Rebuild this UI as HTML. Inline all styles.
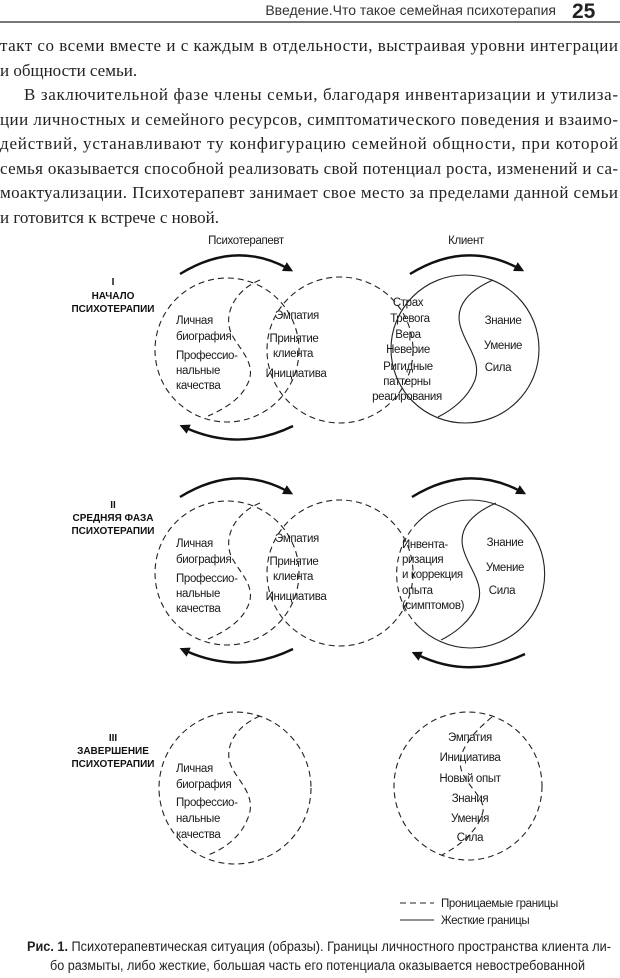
<!DOCTYPE html>
<html><head><meta charset="utf-8">
<style>
html,body{margin:0;padding:0;background:#fff;}
svg{display:block;}
.s{font-family:"Liberation Serif","Noto Serif CJK SC",serif;font-size:17px;fill:#222;}
.n{font-family:"Liberation Sans Narrow","Liberation Sans",sans-serif;font-size:11.5px;letter-spacing:-0.35px;fill:#1a1a1a;}
.b{font-family:"Liberation Sans",sans-serif;font-size:10px;font-weight:bold;fill:#111;}
.d{fill:none;stroke:#222;stroke-width:1.1;stroke-dasharray:6,4;}
.l{fill:none;stroke:#222;stroke-width:1.1;}
.a{fill:none;stroke:#111;stroke-width:2.4;}
</style></head><body>
<svg width="620" height="978" viewBox="0 0 620 978" xmlns="http://www.w3.org/2000/svg">
<defs>
<marker id="ah" markerWidth="10" markerHeight="10" refX="3" refY="5" orient="auto" markerUnits="userSpaceOnUse"><path d="M0,0 L10,5 L0,10 z" fill="#111"/></marker>
</defs>
<text x="556" y="15" text-anchor="end" font-family="Liberation Sans Narrow, Liberation Sans, sans-serif" font-size="14" fill="#333">Введение.Что такое семейная психотерапия</text>
<text x="572" y="18" font-family="Liberation Sans, sans-serif" font-size="21" font-weight="bold" fill="#222">25</text>
<rect x="0" y="21" width="620" height="2" fill="#777"/>
<text class="s" x="0" y="51" textLength="618" lengthAdjust="spacing">такт со всеми вместе и с каждым в отдельности, выстраивая уровни интеграции</text>
<text class="s" x="0" y="76">и общности семьи.</text>
<text class="s" x="24" y="100" textLength="594" lengthAdjust="spacing">В заключительной фазе члены семьи, благодаря инвентаризации и утилиза-</text>
<text class="s" x="0" y="125" textLength="618" lengthAdjust="spacing">ции личностных и семейного ресурсов, симптоматического поведения и взаимо-</text>
<text class="s" x="0" y="149" textLength="618" lengthAdjust="spacing">действий, устанавливают ту конфигурацию семейной общности, при которой</text>
<text class="s" x="0" y="174" textLength="618" lengthAdjust="spacing">семья оказывается способной реализовать свой потенциал роста, изменений и са-</text>
<text class="s" x="0" y="198" textLength="618" lengthAdjust="spacing">моактуализации. Психотерапевт занимает свое место за пределами данной семьи</text>
<text class="s" x="0" y="223">и готовится к встрече с новой.</text>

<text class="n" x="246" y="244" text-anchor="middle">Психотерапевт</text>
<text class="n" x="466" y="244" text-anchor="middle">Клиент</text>

<g class="b" text-anchor="middle"><text x="113" y="285">I</text><text x="113" y="299">НАЧАЛО</text><text x="113" y="312">ПСИХОТЕРАПИИ</text></g>
<path class="a" d="M180,274 Q235,240 287,268" marker-end="url(#ah)"/>
<path class="a" d="M293,426 Q240,452 186,428" marker-end="url(#ah)"/>
<path class="a" d="M410,274 Q465,240 518,268" marker-end="url(#ah)"/>
<circle class="d" cx="227" cy="350" r="72"/>
<circle class="d" cx="340" cy="350" r="73"/>
<circle class="l" cx="465" cy="349" r="74"/>
<path class="d" d="M260,280 C235,290 222,315 232,335 C240,350 258,365 247,385 C240,400 222,410 208,416"/>
<path class="l" d="M493,280 C470,290 455,305 460,325 C465,345 482,360 475,380 C468,398 452,410 438,417"/>
<g class="n">
<text x="176" y="324">Личная</text><text x="176" y="340">биография</text><text x="176" y="359">Профессио-</text><text x="176" y="374">нальные</text><text x="176" y="389">качества</text>
</g>
<g class="n" text-anchor="middle">
<text x="297" y="319">Эмпатия</text><text x="294" y="342">Принятие</text><text x="293" y="357">клиента</text><text x="296" y="377">Инициатива</text>
<text x="408" y="306">Страх</text><text x="410" y="322">Тревога</text><text x="408" y="338">Вера</text><text x="408" y="353">Неверие</text><text x="408" y="370">Ригидные</text><text x="407" y="385">паттерны</text><text x="407" y="400">реагирования</text>
<text x="503" y="324">Знание</text><text x="503" y="349">Умение</text><text x="498" y="371">Сила</text>
</g>

<g class="b" text-anchor="middle"><text x="113" y="508">II</text><text x="113" y="521">СРЕДНЯЯ ФАЗА</text><text x="113" y="534">ПСИХОТЕРАПИИ</text></g>
<path class="a" d="M180,497 Q235,463 287,491" marker-end="url(#ah)"/>
<path class="a" d="M293,649 Q240,675 186,651" marker-end="url(#ah)"/>
<path class="a" d="M412,497 Q467,463 520,491" marker-end="url(#ah)"/>
<path class="a" d="M525,654 Q470,680 418,655" marker-end="url(#ah)"/>
<circle class="d" cx="227" cy="573" r="72"/>
<circle class="d" cx="340" cy="573" r="73"/>
<path class="l" d="M418,522 A74,74 0 1 1 418,626"/>
<path class="d" d="M418,522 A74,74 0 0 0 418,626"/>
<path class="d" d="M260,503 C235,513 222,538 232,558 C240,573 258,588 247,608 C240,623 222,633 208,639"/>
<path class="l" d="M496,503 C473,513 458,528 463,548 C468,568 485,583 478,603 C471,621 455,633 441,640"/>
<g class="n">
<text x="176" y="547">Личная</text><text x="176" y="563">биография</text><text x="176" y="582">Профессио-</text><text x="176" y="597">нальные</text><text x="176" y="612">качества</text>
<text x="402" y="548">Инвента-</text><text x="402" y="563">ризация</text><text x="402" y="578">и коррекция</text><text x="402" y="594">опыта</text><text x="402" y="609">(симптомов)</text>
</g>
<g class="n" text-anchor="middle">
<text x="297" y="542">Эмпатия</text><text x="294" y="565">Принятие</text><text x="293" y="580">клиента</text><text x="296" y="600">Инициатива</text>
<text x="505" y="546">Знание</text><text x="505" y="571">Умение</text><text x="502" y="594">Сила</text>
</g>

<g class="b" text-anchor="middle"><text x="113" y="741">III</text><text x="113" y="754">ЗАВЕРШЕНИЕ</text><text x="113" y="767">ПСИХОТЕРАПИИ</text></g>
<circle class="d" cx="235" cy="788" r="76"/>
<path class="d" d="M260,716 C236,726 222,748 232,768 C240,783 258,798 247,820 C240,838 222,850 208,855"/>
<circle class="d" cx="468" cy="786" r="74"/>
<path class="d" d="M492,717 C470,735 455,755 462,772 C470,790 488,800 482,815 C475,835 455,848 442,855"/>
<g class="n">
<text x="176" y="772">Личная</text><text x="176" y="788">биография</text><text x="176" y="806">Профессио-</text><text x="176" y="822">нальные</text><text x="176" y="838">качества</text>
</g>
<g class="n" text-anchor="middle">
<text x="470" y="741">Эмпатия</text><text x="470" y="761">Инициатива</text><text x="470" y="782">Новый опыт</text><text x="470" y="802">Знания</text><text x="470" y="822">Умения</text><text x="470" y="841">Сила</text>
</g>

<path class="d" d="M400,903 H434"/>
<path class="l" d="M400,920 H434"/>
<text class="n" x="441" y="907">Проницаемые границы</text>
<text class="n" x="441" y="924">Жесткие границы</text>

<text font-family="Liberation Sans Narrow, Liberation Sans, sans-serif" font-size="13.5" fill="#222" x="27" y="951" textLength="584" lengthAdjust="spacingAndGlyphs"><tspan font-weight="bold">Рис. 1.</tspan> Психотерапевтическая ситуация (образы). Границы личностного пространства клиента ли-</text>
<text font-family="Liberation Sans Narrow, Liberation Sans, sans-serif" font-size="13.5" fill="#222" x="50" y="970" textLength="535" lengthAdjust="spacingAndGlyphs">бо размыты, либо жесткие, большая часть его потенциала оказывается невостребованной</text>
</svg>
</body></html>
